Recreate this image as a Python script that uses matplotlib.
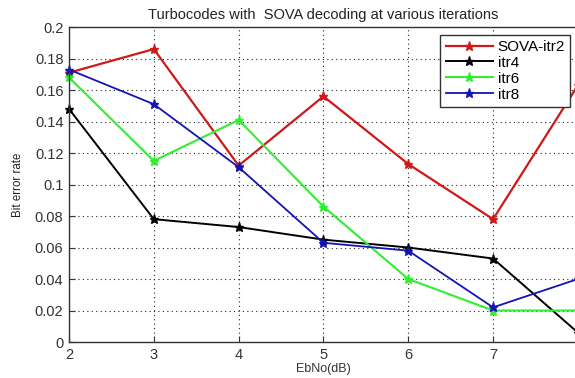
import matplotlib
matplotlib.use('Agg')
import matplotlib.pyplot as plt

plt.rcParams['font.family'] = ['Liberation Sans', 'DejaVu Sans']

# Data
ebno = [2, 3, 4, 5, 6, 7, 8]
ber_itr2 = [0.171, 0.186, 0.112, 0.156, 0.113, 0.078, 0.163]
ber_itr4 = [0.148, 0.078, 0.073, 0.065, 0.060, 0.053, 0.006]
ber_itr6 = [0.168, 0.115, 0.141, 0.086, 0.040, 0.020, 0.020]
ber_itr8 = [0.173, 0.151, 0.111, 0.063, 0.058, 0.022, 0.040]
labels = ['SOVA-itr2', 'itr4', 'itr6', 'itr8']
colors = ['#d01818', '#000000', '#30ee30', '#1414b4']

fig = plt.figure(figsize=(5.75, 3.78), dpi=100, facecolor='white')
# axes run slightly past the right edge, like the cropped original
ax = fig.add_axes([0.12, 0.0952, 0.885, 0.8333])

series = [ber_itr2, ber_itr4, ber_itr6, ber_itr8]
widths = [1.6, 1.4, 1.5, 1.3]
for ys, lab, c, lw in zip(series, labels, colors, widths):
    ax.plot(ebno, ys, '-*', color=c, lw=lw, ms=6.5, mew=1.0, label=lab, clip_on=False)

ax.set_xlim(2, 8)
ax.set_ylim(0, 0.2)
ax.set_xticks([2, 3, 4, 5, 6, 7, 8])
ax.set_xticklabels(['2', '3', '4', '5', '6', '7', ''])
ax.set_yticks([0, 0.02, 0.04, 0.06, 0.08, 0.1, 0.12, 0.14, 0.16, 0.18, 0.2])
ax.set_yticklabels(['0', '0.02', '0.04', '0.06', '0.08', '0.1', '0.12', '0.14',
                    '0.16', '0.18', '0.2'])
ax.tick_params(labelsize=10.5, direction='in', length=4, color='#333333',
               labelcolor='#333333', pad=4)
ax.grid(True, color='#222222', linestyle=(0, (1, 3)), linewidth=0.8)
for sp in ax.spines.values():
    sp.set_color('#333333')
    sp.set_linewidth(1.0)

ax.set_title('Turbocodes with  SOVA decoding at various iterations', fontsize=10.5,
             color='#222222', pad=6)
ax.set_xlabel('EbNo(dB)', fontsize=9, color='#333333', labelpad=1)
ax.set_ylabel('Bit error rate', fontsize=8.3, color='#222222', labelpad=8)

leg = ax.legend(loc='upper right', bbox_to_anchor=(1.0, 1.0), fontsize=11,
                fancybox=False, edgecolor='#333333', framealpha=1,
                handlelength=3.1, borderpad=0.35, labelspacing=0.12, handletextpad=0.3)
leg.get_frame().set_linewidth(1.0)

fig.savefig('out.png', dpi=100, facecolor='white')
